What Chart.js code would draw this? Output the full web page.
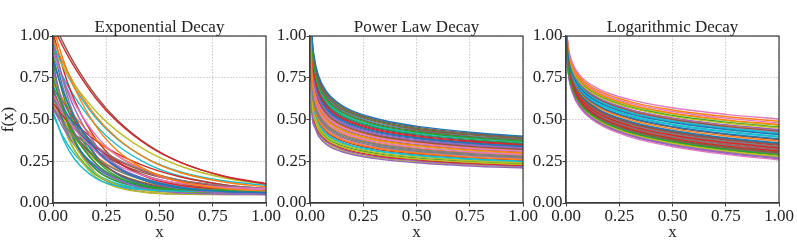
<!DOCTYPE html>
<html>
<head>
<meta charset="utf-8">
<script src="https://cdn.jsdelivr.net/npm/chart.js@4.4.1/dist/chart.umd.min.js"></script>
<style>
  body { margin: 0; background: #fff; width: 797px; height: 249px; position: relative; overflow: hidden; }
  .panel { position: absolute; top: 0; width: 284px; height: 249px; }
</style>
</head>
<body>
<div class="panel" style="left:0px"><canvas id="expChart" width="284" height="249"></canvas></div>
<div class="panel" style="left:257px"><canvas id="powChart" width="284" height="249"></canvas></div>
<div class="panel" style="left:513px"><canvas id="logChart" width="284" height="249"></canvas></div>
<script>
// panel titles and shared ticks
const panelTitles = ['Exponential Decay', 'Power Law Decay', 'Logarithmic Decay'];
const tickValues = [0, 0.25, 0.5, 0.75, 1];
const colors = ['#1f77b4', '#ff7f0e', '#2ca02c', '#d62728', '#9467bd', '#8c564b', '#e377c2', '#7f7f7f', '#bcbd22', '#17becf'];

// exponential decay curves
const expX = [0, 0.05, 0.1, 0.2, 0.3, 0.45, 0.6, 0.8, 1.0];
const expCurves = [
  [.85, .66, .516, .323, .212, .126, .089, .069, .063],
  [1.05, .851, .692, .463, .316, .191, .126, .087, .071],
  [.75, .549, .408, .238, .153, .099, .08, .073, .071],
  [1.06, .928, .815, .629, .489, .34, .242, .162, .116],
  [.95, .734, .569, .35, .223, .126, .083, .061, .054],
  [1.09, .954, .836, .644, .499, .345, .243, .16, .113],
  [.65, .535, .444, .312, .228, .155, .118, .095, .086],
  [.62, .531, .458, .343, .263, .184, .137, .104, .087],
  [.92, .807, .71, .551, .432, .304, .22, .151, .112],
  [.55, .376, .265, .149, .102, .078, .072, .07, .07],
  [.7, .569, .465, .315, .218, .136, .094, .068, .057],
  [.98, .833, .712, .522, .389, .258, .181, .126, .097],
  [.88, .638, .468, .263, .16, .095, .072, .063, .061],
  [.6, .515, .444, .333, .256, .18, .135, .102, .086],
  [.8, .579, .423, .235, .142, .082, .061, .053, .051],
  [.68, .531, .418, .266, .179, .112, .083, .067, .062],
  [.9, .733, .6, .408, .285, .18, .126, .092, .079],
  [.58, .475, .392, .272, .195, .129, .095, .074, .066],
  [.78, .519, .353, .179, .108, .072, .064, .061, .06],
  [.95, .81, .693, .512, .385, .26, .186, .133, .106],
  [.66, .486, .363, .216, .142, .095, .079, .072, .071],
  [.72, .612, .522, .383, .285, .189, .132, .091, .07],
  [.82, .552, .381, .202, .13, .093, .084, .081, .08],
  [1.02, .792, .618, .386, .252, .15, .105, .081, .074],
  [.57, .445, .35, .223, .15, .094, .069, .056, .052],
  [.74, .605, .497, .343, .244, .158, .115, .088, .077],
  [.86, .668, .522, .326, .214, .127, .09, .07, .063],
  [.64, .469, .348, .203, .131, .085, .069, .062, .061],
  [.7, .465, .315, .157, .094, .061, .053, .05, .05],
  [.53, .391, .294, .176, .117, .08, .067, .062, .06],
  [.93, .676, .497, .282, .175, .107, .083, .073, .071],
  [.6, .491, .405, .28, .2, .131, .096, .075, .066],
  [.68, .459, .318, .171, .111, .08, .073, .07, .07],
  [.62, .545, .481, .375, .296, .212, .156, .11, .085],
  [.84, .554, .372, .18, .103, .063, .054, .051, .05],
  [.56, .481, .415, .314, .242, .171, .13, .1, .085],
  [.77, .604, .478, .31, .212, .138, .106, .088, .083],
  [.99, .716, .522, .29, .173, .1, .074, .064, .061],
  [.63, .496, .393, .256, .178, .117, .091, .077, .072],
  [.88, .748, .638, .468, .347, .23, .16, .11, .085]
];

// power law decay curves
const powX = [0.004, 0.01, 0.02, 0.04, 0.08, 0.15, 0.3, 0.5, 0.75, 1.0];
const powCurves = [
  [1.32, 1.005, .874, .762, .663, .584, .509, .46, .424, .40],
  [1.05, .754, .656, .571, .497, .438, .382, .345, .318, .30],
  [1.221, .929, .809, .704, .613, .541, .471, .425, .392, .37],
  [1.155, .879, .765, .666, .58, .511, .445, .402, .371, .35],
  [1.089, .829, .721, .628, .547, .482, .42, .379, .349, .33],
  [1.304, .992, .863, .752, .655, .577, .502, .454, .418, .395],
  [1.05, .779, .678, .59, .514, .453, .394, .356, .328, .31],
  [1.05, .678, .59, .514, .447, .394, .343, .31, .286, .27],
  [1.05, .603, .525, .457, .398, .351, .305, .276, .254, .24],
  [1.205, .917, .798, .695, .605, .533, .464, .419, .387, .365],
  [1.122, .854, .743, .647, .563, .497, .432, .391, .36, .34],
  [1.05, .653, .568, .495, .431, .38, .331, .299, .275, .26],
  [1.188, .904, .787, .685, .597, .526, .458, .414, .381, .36],
  [1.139, .867, .754, .657, .572, .504, .439, .396, .365, .345],
  [1.05, .528, .459, .40, .348, .307, .267, .241, .222, .21],
  [1.056, .804, .70, .609, .53, .468, .407, .368, .339, .32],
  [1.05, .728, .634, .552, .481, .424, .369, .333, .307, .29],
  [1.05, .703, .612, .533, .464, .409, .356, .322, .297, .28],
  [1.05, .578, .503, .438, .381, .336, .293, .264, .244, .23],
  [1.05, .628, .547, .476, .414, .365, .318, .287, .265, .25],
  [1.106, .842, .732, .638, .555, .489, .426, .385, .355, .335],
  [1.05, .716, .623, .543, .472, .416, .363, .327, .302, .285],
  [1.05, .59, .514, .447, .389, .343, .299, .27, .249, .235],
  [1.05, .565, .492, .428, .373, .329, .286, .259, .238, .225],
  [1.073, .816, .71, .619, .539, .475, .413, .373, .344, .325],
  [1.271, .967, .842, .733, .638, .562, .49, .442, .408, .385],
  [1.05, .666, .579, .505, .439, .387, .337, .304, .281, .265],
  [1.05, .766, .667, .581, .505, .446, .388, .35, .323, .305],
  [1.05, .741, .645, .562, .489, .431, .375, .339, .312, .295],
  [1.05, .615, .536, .466, .406, .358, .312, .282, .259, .245],
  [1.172, .892, .776, .676, .588, .519, .452, .408, .376, .355],
  [1.05, .791, .689, .60, .522, .46, .401, .362, .334, .315],
  [1.287, .98, .853, .743, .646, .57, .496, .448, .413, .39],
  [1.05, .641, .557, .486, .423, .373, .324, .293, .27, .255],
  [1.05, .553, .481, .419, .365, .321, .28, .253, .233, .22],
  [1.238, .942, .82, .714, .621, .548, .477, .431, .397, .375],
  [1.122, .854, .743, .647, .563, .497, .432, .391, .36, .34],
  [1.05, .691, .601, .524, .456, .402, .35, .316, .291, .275],
  [1.05, .54, .47, .409, .356, .314, .273, .247, .228, .215],
  [1.254, .955, .831, .724, .63, .555, .483, .437, .402, .38]
];

// logarithmic decay curves
const logX = [0.001, 0.003, 0.01, 0.03, 0.07, 0.15, 0.3, 0.5, 0.75, 1.0];
const logCurves = [
  [1.123, 1.009, .885, .772, .684, .606, .534, .482, .44, .41],
  [1.151, 1.043, .924, .816, .732, .657, .589, .538, .498, .47],
  [1.067, .944, .808, .685, .589, .503, .425, .368, .322, .29],
  [1.086, .966, .834, .714, .621, .538, .462, .406, .362, .33],
  [1.058, .933, .795, .67, .573, .486, .407, .349, .303, .27],
  [1.095, .977, .847, .728, .637, .555, .48, .425, .381, .35],
  [1.166, 1.061, .945, .84, .758, .685, .619, .57, .531, .503],
  [1.09, .971, .84, .721, .629, .546, .471, .415, .371, .34],
  [1.141, 1.031, .911, .801, .716, .64, .571, .519, .479, .45],
  [1.118, 1.004, .879, .765, .677, .597, .525, .472, .43, .40],
  [1.10, .982, .853, .736, .645, .563, .489, .434, .391, .36],
  [1.104, .987, .86, .743, .653, .572, .498, .444, .401, .37],
  [1.144, 1.034, .914, .805, .72, .644, .575, .524, .484, .455],
  [1.077, .955, .821, .699, .605, .521, .444, .387, .342, .31],
  [1.137, 1.026, .905, .794, .708, .631, .561, .51, .469, .44],
  [1.072, .949, .815, .692, .597, .512, .435, .377, .332, .30],
  [1.052, .926, .788, .661, .564, .476, .396, .338, .291, .258],
  [1.083, .963, .831, .71, .617, .533, .457, .401, .357, .325],
  [1.063, .938, .802, .677, .581, .495, .416, .359, .313, .28],
  [1.127, 1.015, .892, .779, .692, .614, .543, .491, .449, .42],
  [1.112, .996, .869, .754, .665, .585, .512, .458, .415, .385],
  [1.16, 1.053, .937, .83, .748, .674, .607, .557, .518, .49],
  [1.065, .941, .805, .681, .585, .499, .421, .363, .318, .285],
  [1.093, .974, .844, .725, .633, .55, .475, .42, .376, .345],
  [1.069, .946, .811, .688, .593, .508, .43, .373, .327, .295],
  [1.133, 1.021, .898, .787, .70, .623, .552, .50, .459, .43],
  [1.156, 1.048, .93, .823, .74, .666, .598, .548, .508, .48],
  [1.079, .957, .824, .703, .609, .525, .448, .392, .347, .315],
  [1.148, 1.04, .92, .812, .728, .653, .584, .534, .493, .465],
  [1.116, 1.001, .876, .761, .673, .593, .521, .467, .425, .395],
  [1.098, .979, .85, .732, .641, .559, .484, .429, .386, .355],
  [1.135, 1.023, .901, .79, .704, .627, .557, .505, .464, .435],
  [1.075, .952, .818, .696, .601, .516, .439, .382, .337, .305],
  [1.081, .96, .827, .706, .613, .529, .453, .396, .352, .32],
  [1.056, .93, .792, .667, .569, .482, .403, .344, .298, .265],
  [1.109, .993, .866, .75, .661, .58, .507, .453, .41, .38],
  [1.13, 1.018, .895, .783, .696, .619, .548, .496, .454, .425],
  [1.088, .968, .837, .717, .625, .542, .466, .411, .366, .335],
  [1.06, .935, .799, .674, .577, .491, .412, .354, .308, .275],
  [1.125, 1.012, .888, .776, .688, .61, .539, .486, .445, .415]
];

const fontFamily = '"Liberation Serif", "DejaVu Serif", serif';
const axisColor = '#3a3a3a';

// draws the full frame box and the panel title
const framePlugin = {
  id: 'frame',
  afterDraw(chart, args, opts) {
    const ctx = chart.ctx;
    const a = chart.chartArea;
    ctx.save();
    ctx.strokeStyle = axisColor;
    ctx.lineWidth = 1.2;
    ctx.strokeRect(a.left, a.top, a.right - a.left, a.bottom - a.top);
    ctx.fillStyle = '#222';
    ctx.font = '17px ' + fontFamily;
    ctx.textAlign = 'center';
    ctx.textBaseline = 'alphabetic';
    ctx.fillText(opts.text, (a.left + a.right) / 2, 32);
    ctx.restore();
  }
};

function makeScale(axis, titleText) {
  return {
    type: 'linear',
    min: 0,
    max: 1,
    afterBuildTicks: s => { s.ticks = tickValues.map(v => ({ value: v })); },
    afterFit: s => {
      if (axis === 'x') s.height = 46; else s.width = 53;
    },
    ticks: {
      callback: v => v.toFixed(2),
      color: '#222',
      font: { family: fontFamily, size: 17 },
      padding: 0,
      maxRotation: 0,
      autoSkip: false
    },
    grid: {
      color: 'rgba(170,170,170,0.8)',
      lineWidth: 0.8,
      tickColor: axisColor,
      tickLength: 3.5,
      tickWidth: 1
    },
    border: { display: true, color: axisColor, width: 1.2, dash: [1.5, 1.5] },
    title: {
      display: !!titleText,
      text: titleText,
      color: '#222',
      font: { family: fontFamily, size: 17, lineHeight: 1 },
      padding: axis === 'x' ? { top: 0, bottom: 8 } : { top: 0, bottom: 0 }
    }
  };
}

function buildChart(canvasId, xs, curves, title, yTitle) {
  const datasets = curves.map((ys, i) => ({
    data: xs.map((x, j) => ({ x: x, y: ys[j] })),
    borderColor: colors[i % colors.length],
    borderWidth: 1.4,
    pointRadius: 0,
    fill: false,
    cubicInterpolationMode: 'monotone'
  }));
  return new Chart(document.getElementById(canvasId), {
    type: 'line',
    data: { datasets: datasets },
    options: {
      responsive: false,
      animation: false,
      layout: { padding: { top: 36, right: 18, left: 0, bottom: 0 } },
      plugins: {
        legend: { display: false },
        tooltip: { enabled: false },
        frame: { text: title }
      },
      scales: {
        x: makeScale('x', 'x'),
        y: makeScale('y', yTitle)
      }
    },
    plugins: [framePlugin]
  });
}

buildChart('expChart', expX, expCurves, panelTitles[0], 'f(x)');
buildChart('powChart', powX, powCurves, panelTitles[1], '');
buildChart('logChart', logX, logCurves, panelTitles[2], '');
</script>
</body>
</html>
